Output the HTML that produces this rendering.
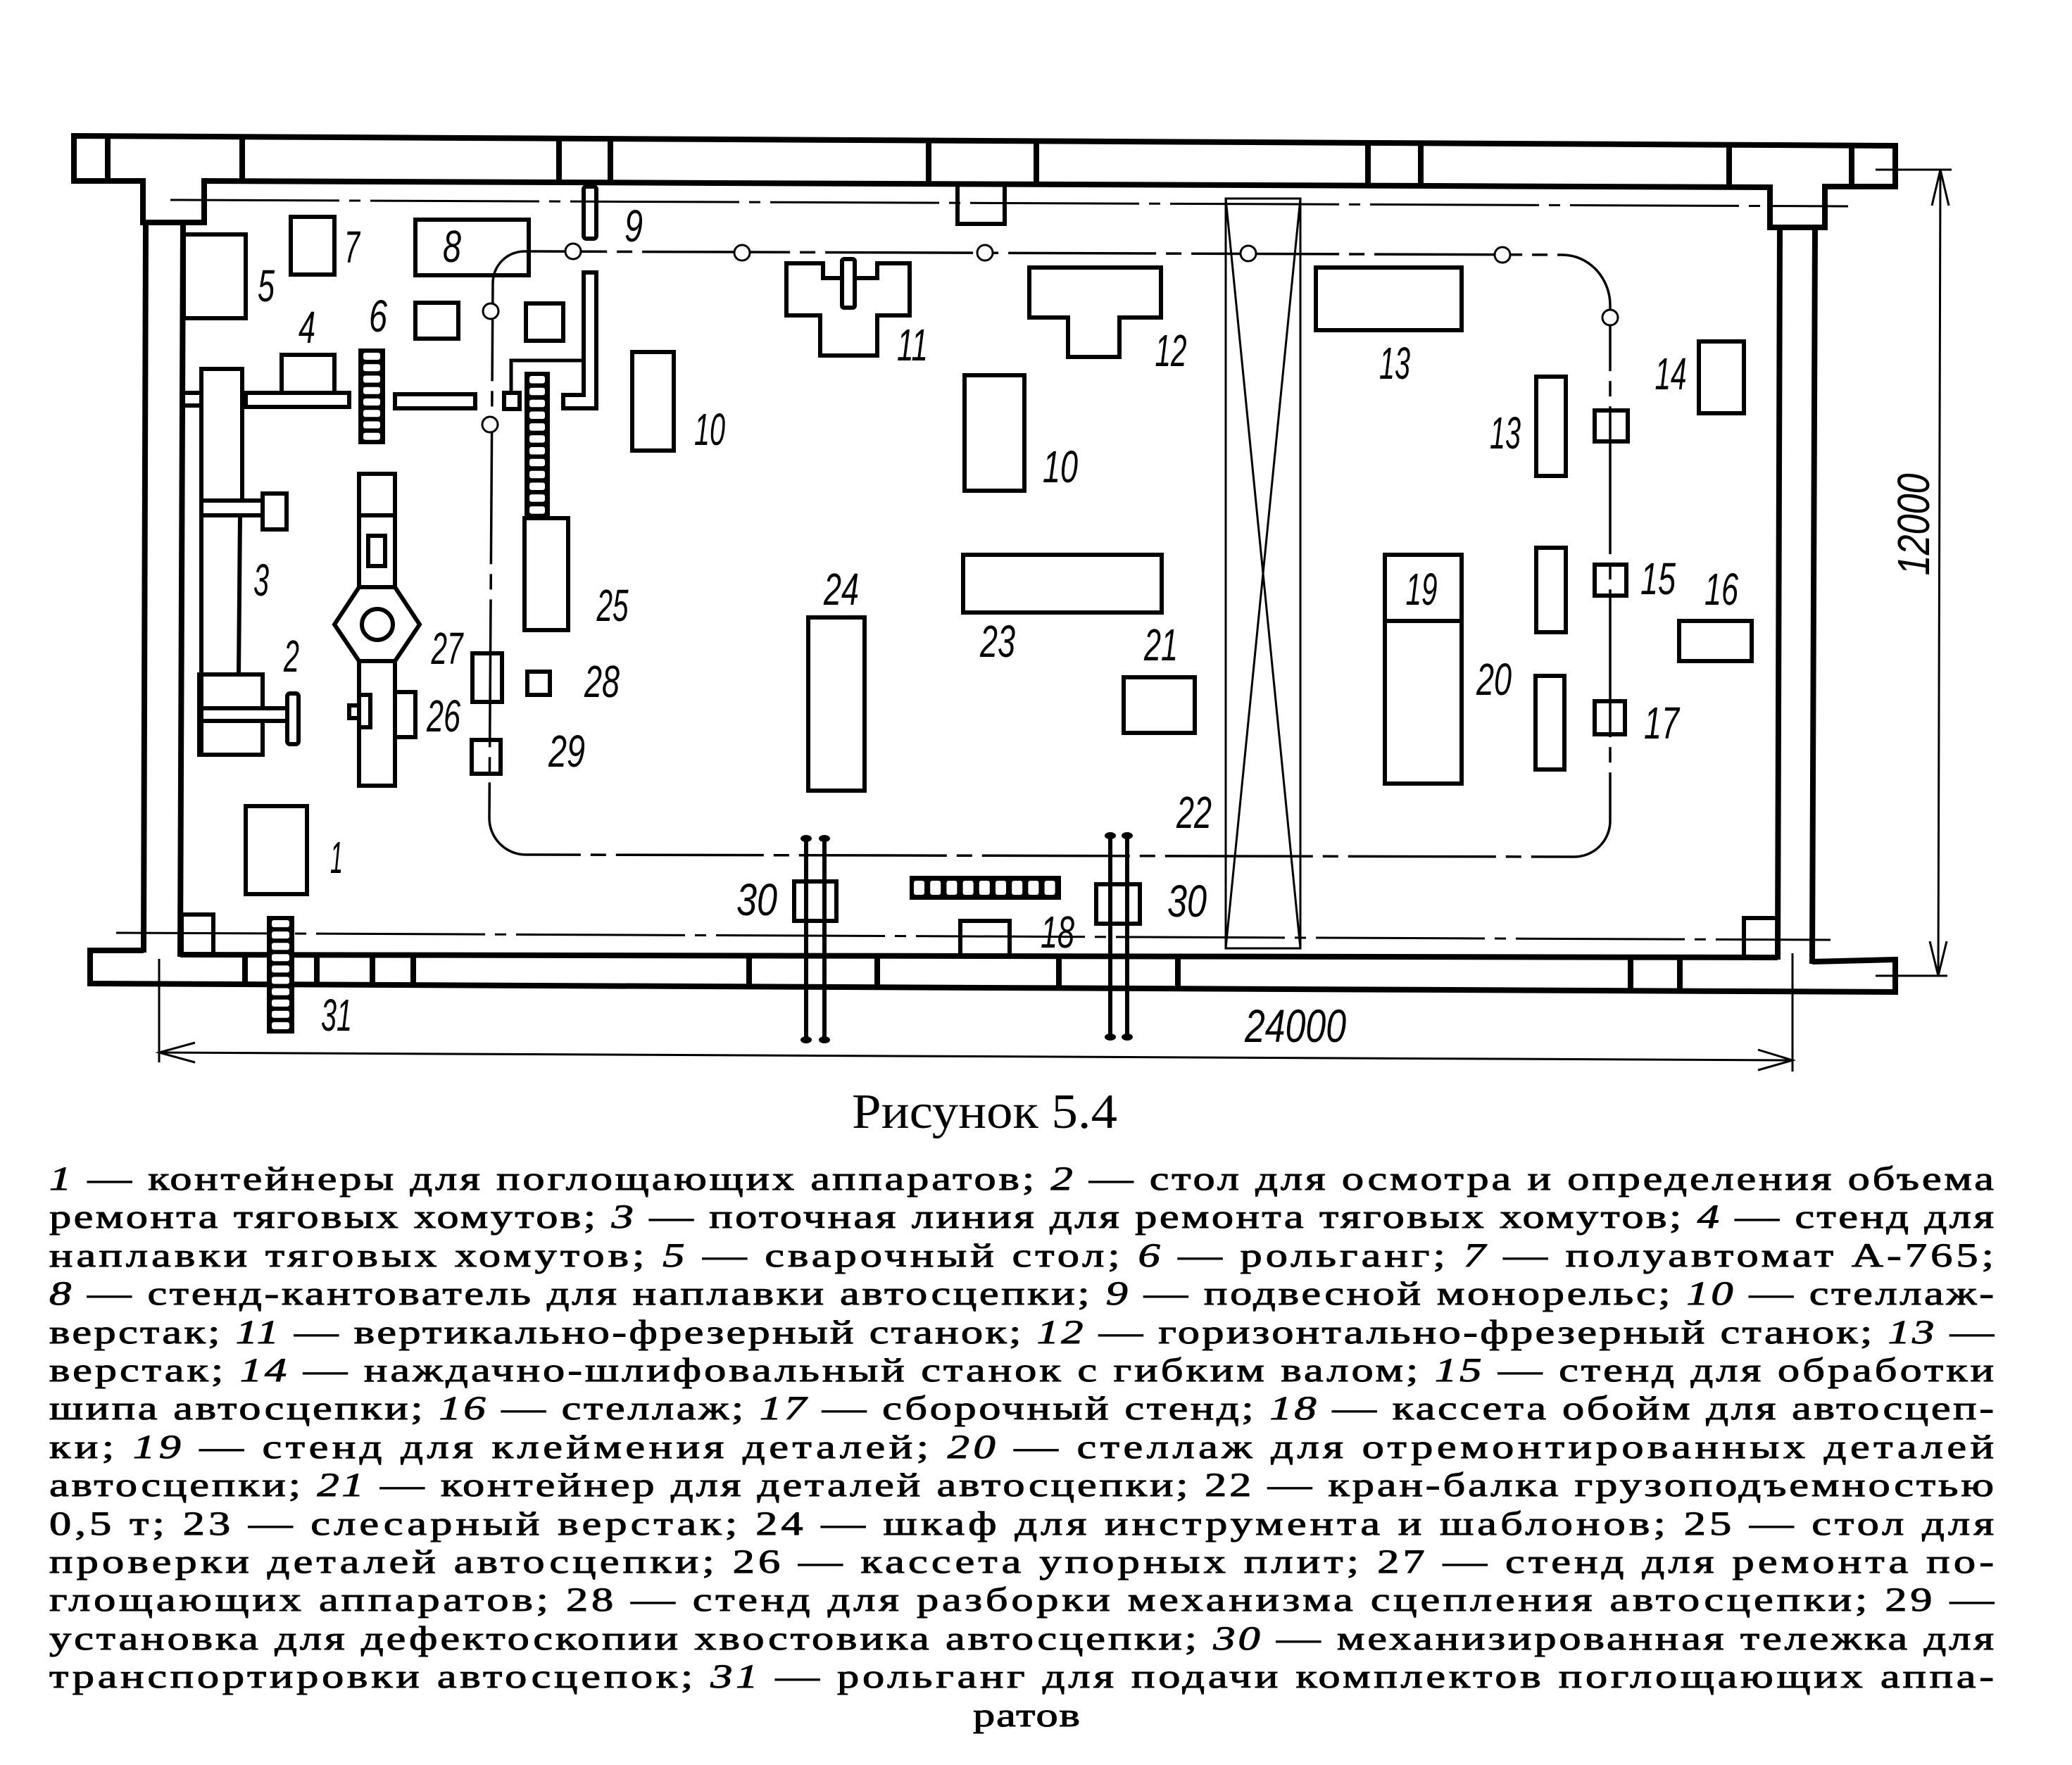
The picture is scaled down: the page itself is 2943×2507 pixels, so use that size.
<!DOCTYPE html>
<html><head><meta charset="utf-8"><style>
html,body{margin:0;padding:0;background:#fff;}
svg{display:block;}
.w{stroke:#000;stroke-width:8;fill:none;stroke-linejoin:miter}
.e{stroke:#000;stroke-width:6;fill:none}
.t{stroke:#000;stroke-width:3;fill:none}
.dd{stroke:#000;stroke-width:3.5;fill:none;stroke-dasharray:210 14 22 14}
.lb{font-family:"Liberation Sans",sans-serif;font-style:italic;font-size:64px;fill:#000;text-anchor:middle}
.cap{font-family:"Liberation Serif",serif;font-size:48px;fill:#000;stroke:#000;stroke-width:1}
.it{font-style:italic}
</style></head><body>
<svg width="2943" height="2507" viewBox="0 0 2943 2507" xmlns="http://www.w3.org/2000/svg">
<rect x="0" y="0" width="2943" height="2507" fill="#fff"/>

<!-- TOP WALL -->
<path class="w" d="M105,193 L2692,207 L2692,265 L2592,265 L2592,323 L2514,323 L2514,266 L290,257 L290,316 L203,316 L203,257 L105,257 Z"/>
<g class="w">
<line x1="153" y1="193" x2="153" y2="257"/>
<line x1="344" y1="194" x2="344" y2="257"/>
<line x1="794" y1="197" x2="794" y2="259"/>
<line x1="867" y1="197" x2="867" y2="259"/>
<line x1="1319" y1="200" x2="1319" y2="261"/>
<line x1="1472" y1="200" x2="1472" y2="262"/>
<line x1="1943" y1="203" x2="1943" y2="264"/>
<line x1="2018" y1="203" x2="2018" y2="264"/>
<line x1="2456" y1="206" x2="2456" y2="266"/>
<line x1="2630" y1="207" x2="2630" y2="265"/>
</g>
<path class="e" d="M1360,261 L1360,318 L1427,318 L1427,262"/>

<!-- SIDE WALLS -->
<g class="w">
<line x1="207" y1="316" x2="204" y2="1353"/>
<line x1="260" y1="316" x2="256" y2="1359"/>
<line x1="2528" y1="323" x2="2525" y2="1363"/>
<line x1="2578" y1="323" x2="2574" y2="1369"/>
</g>

<!-- BOTTOM WALL -->
<path class="w" d="M204,1350 L128,1350 L128,1397 L2692,1409 L2692,1363 L2574,1366"/>
<line class="w" x1="256" y1="1356" x2="2525" y2="1360"/>
<g class="w">
<line x1="348" y1="1356" x2="348" y2="1398"/>
<line x1="450" y1="1356" x2="450" y2="1399"/>
<line x1="529" y1="1357" x2="529" y2="1399"/>
<line x1="587" y1="1357" x2="587" y2="1399"/>
<line x1="1064" y1="1357" x2="1064" y2="1401"/>
<line x1="1246" y1="1358" x2="1246" y2="1402"/>
<line x1="1504" y1="1358" x2="1504" y2="1403"/>
<line x1="1673" y1="1359" x2="1673" y2="1404"/>
<line x1="2316" y1="1360" x2="2316" y2="1407"/>
<line x1="2386" y1="1360" x2="2386" y2="1408"/>
</g>
<rect class="e" x="258" y="1299" width="45" height="57"/>
<rect class="e" x="2477" y="1304" width="48" height="56"/>

<!-- AXES dash-dot -->
<path class="t" style="stroke-dasharray:240 14 16 14" d="M242,284 L2625,293"/>
<path class="t" style="stroke-dasharray:240 14 16 14" d="M165,1325 L2600,1335"/>

<!-- MONORAIL loop -->
<path class="dd" d="M745,357 A45 45 0 0 0 700,402 L695,1162 A52 52 0 0 0 747,1214 L2236,1217 A51 51 0 0 0 2287,1166 L2287,436 A68 72 0 0 0 2219,362 Z"/>
<g class="t" style="fill:#fff">
<circle cx="814" cy="357" r="11"/>
<circle cx="1054" cy="359" r="11"/>
<circle cx="1399" cy="359" r="11"/>
<circle cx="1773" cy="360" r="11"/>
<circle cx="2134" cy="362" r="11"/>
<circle cx="697" cy="442" r="11"/>
<circle cx="696" cy="603" r="11"/>
<circle cx="2287" cy="451" r="11"/>
</g>
<g class="e">
<rect x="671" y="928" width="42" height="69"/>
<rect x="670" y="1051" width="41" height="48"/>
<rect x="2265" y="583" width="47" height="44"/>
<rect x="2265" y="802" width="45" height="44"/>
<rect x="2265" y="996" width="43" height="47"/>
</g>
<!-- 9 slot -->
<rect class="e" x="829" y="265" width="18" height="74" rx="4"/>

<!-- EQUIPMENT -->
<g class="e">
<rect x="349" y="1145" width="87" height="125"/>
<rect x="261" y="333" width="88" height="119"/>
<rect x="413" y="308" width="62" height="82"/>
<rect x="590" y="312" width="161" height="79"/>
<rect x="590" y="430" width="61" height="51"/>
<rect x="747" y="431" width="53" height="53"/>
<rect x="400" y="504" width="75" height="54"/>
<rect x="349" y="558" width="147" height="20"/>
<rect x="561" y="560" width="114" height="20"/>
<path d="M286,1072 L286,524 L344,524 L344,711"/>
<line x1="341" y1="732" x2="339" y2="958"/>
<rect x="286" y="711" width="87" height="21"/>
<rect x="373" y="701" width="34" height="51"/>
<rect x="260" y="558" width="26" height="18"/>
<rect x="283" y="958" width="90" height="48"/>
<rect x="283" y="1006" width="125" height="18"/>
<rect x="408" y="985" width="16" height="72" rx="4"/>
<rect x="283" y="1024" width="90" height="48"/>
<path d="M829,387 L847,387 L847,580 L800,580 L800,561 L829,561 Z"/>
<path class="t" style="stroke-width:5" d="M829,512 L726,512 L726,558"/>
<rect x="716" y="558" width="22" height="23"/>
<rect x="898" y="500" width="59" height="140"/>
<rect x="745" y="736" width="62" height="159"/>
<rect x="510" y="673" width="51" height="161"/>
<line x1="510" y1="732" x2="561" y2="732"/>
<rect x="523" y="761" width="24" height="43"/>
<polygon points="475,887 510,834 561,834 596,887 561,939 510,939"/>
<circle cx="536" cy="887" r="22"/>
<rect x="510" y="939" width="51" height="177"/>
<rect x="510" y="987" width="16" height="46"/>
<rect x="496" y="1002" width="14" height="18"/>
<rect x="561" y="983" width="29" height="64"/>
<rect x="749" y="954" width="32" height="33"/>
<polygon points="1117,374 1169,374 1169,395 1246,395 1246,374 1292,374 1292,448 1246,448 1246,505 1165,505 1165,448 1117,448"/>
<rect x="1196" y="368" width="18" height="69" rx="3" style="fill:#fff"/>
<polygon points="1462,380 1649,380 1649,451 1590,451 1590,507 1517,507 1517,451 1462,451"/>
<rect x="1370" y="533" width="85" height="164"/>
<rect x="1368" y="788" width="282" height="82"/>
<rect x="1596" y="962" width="101" height="79"/>
<rect x="1148" y="877" width="80" height="246"/>
<rect x="1869" y="380" width="207" height="89"/>
<rect x="2182" y="535" width="42" height="141"/>
<rect x="2182" y="778" width="42" height="120"/>
<rect x="2181" y="960" width="41" height="133"/>
<rect x="2413" y="485" width="64" height="102"/>
<rect x="2385" y="882" width="103" height="57"/>
<rect x="1967" y="788" width="109" height="325"/>
<line x1="1967" y1="882" x2="2076" y2="882"/>
<rect x="1364" y="1308" width="70" height="50"/>
</g>

<!-- CRANE 22 -->
<g class="t">
<rect x="1741" y="282" width="106" height="1065"/>
<line x1="1741" y1="282" x2="1847" y2="1347"/>
<line x1="1847" y1="282" x2="1741" y2="1347"/>
</g>

<!-- LADDERS -->
<rect x="509" y="495" width="38" height="136" fill="#000"/>
<g fill="#fff">
<rect x="516" y="501" width="24" height="10" rx="3"/><rect x="516" y="517.25" width="24" height="10" rx="3"/>
<rect x="516" y="533.5" width="24" height="10" rx="3"/><rect x="516" y="549.75" width="24" height="10" rx="3"/>
<rect x="516" y="566" width="24" height="10" rx="3"/><rect x="516" y="582.25" width="24" height="10" rx="3"/>
<rect x="516" y="598.5" width="24" height="10" rx="3"/><rect x="516" y="614.75" width="24" height="10" rx="3"/>
</g>
<rect x="745" y="528" width="36" height="208" fill="#000"/>
<g fill="#fff">
<rect x="752" y="534" width="22" height="10.5" rx="3"/><rect x="752" y="550.8" width="22" height="10.5" rx="3"/>
<rect x="752" y="567.7" width="22" height="10.5" rx="3"/><rect x="752" y="584.5" width="22" height="10.5" rx="3"/>
<rect x="752" y="601.3" width="22" height="10.5" rx="3"/><rect x="752" y="618.2" width="22" height="10.5" rx="3"/>
<rect x="752" y="635" width="22" height="10.5" rx="3"/><rect x="752" y="651.8" width="22" height="10.5" rx="3"/>
<rect x="752" y="668.7" width="22" height="10.5" rx="3"/><rect x="752" y="685.5" width="22" height="10.5" rx="3"/>
<rect x="752" y="702.3" width="22" height="10.5" rx="3"/><rect x="752" y="719.2" width="22" height="10.5" rx="3"/>
</g>
<rect x="379" y="1301" width="39" height="167" fill="#000"/>
<g fill="#fff">
<rect x="386" y="1307" width="25" height="10" rx="3"/><rect x="386" y="1323.1" width="25" height="10" rx="3"/>
<rect x="386" y="1339.2" width="25" height="10" rx="3"/><rect x="386" y="1355.3" width="25" height="10" rx="3"/>
<rect x="386" y="1371.4" width="25" height="10" rx="3"/><rect x="386" y="1387.5" width="25" height="10" rx="3"/>
<rect x="386" y="1403.6" width="25" height="10" rx="3"/><rect x="386" y="1419.7" width="25" height="10" rx="3"/>
<rect x="386" y="1435.8" width="25" height="10" rx="3"/><rect x="386" y="1451.9" width="25" height="10" rx="3"/>
</g>
<rect x="1292" y="1244" width="215" height="34" fill="#000"/>
<g fill="#fff">
<rect x="1298" y="1251" width="15" height="20" rx="3"/><rect x="1321.2" y="1251" width="15" height="20" rx="3"/>
<rect x="1344.4" y="1251" width="15" height="20" rx="3"/><rect x="1367.6" y="1251" width="15" height="20" rx="3"/>
<rect x="1390.8" y="1251" width="15" height="20" rx="3"/><rect x="1414" y="1251" width="15" height="20" rx="3"/>
<rect x="1437.2" y="1251" width="15" height="20" rx="3"/><rect x="1460.4" y="1251" width="15" height="20" rx="3"/>
<rect x="1483.6" y="1251" width="15" height="20" rx="3"/>
</g>

<!-- 30 trolleys -->
<g class="e">
<line x1="1145" y1="1190" x2="1145" y2="1478"/>
<line x1="1171" y1="1190" x2="1171" y2="1478"/>
<rect x="1128" y="1252" width="60" height="56"/>
<line x1="1577" y1="1186" x2="1577" y2="1474"/>
<line x1="1601" y1="1186" x2="1601" y2="1474"/>
<rect x="1557" y="1256" width="62" height="56"/>
</g>
<g fill="#000">
<ellipse cx="1145" cy="1191" rx="8" ry="5"/><ellipse cx="1171" cy="1191" rx="8" ry="5"/>
<ellipse cx="1145" cy="1477" rx="8" ry="5"/><ellipse cx="1171" cy="1477" rx="8" ry="5"/>
<ellipse cx="1577" cy="1187" rx="8" ry="5"/><ellipse cx="1601" cy="1187" rx="8" ry="5"/>
<ellipse cx="1577" cy="1473" rx="8" ry="5"/><ellipse cx="1601" cy="1473" rx="8" ry="5"/>
</g>

<!-- DIMENSIONS -->
<g class="t">
<line x1="226" y1="1362" x2="226" y2="1509"/>
<line x1="2546" y1="1354" x2="2546" y2="1522"/>
<line x1="226" y1="1495" x2="2546" y2="1506"/>
<polyline points="277,1481 226,1495 277,1509"/>
<polyline points="2497,1491 2546,1506 2497,1520"/>
<line x1="2664" y1="241" x2="2772" y2="241"/>
<line x1="2664" y1="1386" x2="2766" y2="1386"/>
<line x1="2756" y1="241" x2="2753" y2="1386"/>
<polyline points="2744,292 2756,241 2768,292"/>
<polyline points="2741,1337 2753,1386 2765,1337"/>
</g>

<!-- LABELS -->
<g class="lb">
<text x="378" y="428" textLength="24" lengthAdjust="spacingAndGlyphs">5</text>
<text x="500" y="373" textLength="22" lengthAdjust="spacingAndGlyphs">7</text>
<text x="642" y="372" textLength="26" lengthAdjust="spacingAndGlyphs">8</text>
<text x="900" y="343" textLength="26" lengthAdjust="spacingAndGlyphs">9</text>
<text x="436" y="487" textLength="24" lengthAdjust="spacingAndGlyphs">4</text>
<text x="537" y="471" textLength="26" lengthAdjust="spacingAndGlyphs">6</text>
<text x="371" y="846" textLength="22" lengthAdjust="spacingAndGlyphs">3</text>
<text x="414" y="954" textLength="22" lengthAdjust="spacingAndGlyphs">2</text>
<text x="478" y="1240" textLength="18" lengthAdjust="spacingAndGlyphs">1</text>
<text x="870" y="882" textLength="45" lengthAdjust="spacingAndGlyphs">25</text>
<text x="635" y="943" textLength="45" lengthAdjust="spacingAndGlyphs">27</text>
<text x="1008" y="632" textLength="44" lengthAdjust="spacingAndGlyphs">10</text>
<text x="630" y="1039" textLength="48" lengthAdjust="spacingAndGlyphs">26</text>
<text x="855" y="990" textLength="50" lengthAdjust="spacingAndGlyphs">28</text>
<text x="805" y="1089" textLength="52" lengthAdjust="spacingAndGlyphs">29</text>
<text x="478" y="1464" textLength="44" lengthAdjust="spacingAndGlyphs">31</text>
<text x="1296" y="512" textLength="44" lengthAdjust="spacingAndGlyphs">11</text>
<text x="1663" y="520" textLength="45" lengthAdjust="spacingAndGlyphs">12</text>
<text x="1506" y="685" textLength="50" lengthAdjust="spacingAndGlyphs">10</text>
<text x="1195" y="859" textLength="50" lengthAdjust="spacingAndGlyphs">24</text>
<text x="1417" y="933" textLength="50" lengthAdjust="spacingAndGlyphs">23</text>
<text x="1649" y="938" textLength="48" lengthAdjust="spacingAndGlyphs">21</text>
<text x="1981" y="538" textLength="44" lengthAdjust="spacingAndGlyphs">13</text>
<text x="2138" y="637" textLength="44" lengthAdjust="spacingAndGlyphs">13</text>
<text x="2373" y="553" textLength="45" lengthAdjust="spacingAndGlyphs">14</text>
<text x="2355" y="844" textLength="50" lengthAdjust="spacingAndGlyphs">15</text>
<text x="2445" y="859" textLength="48" lengthAdjust="spacingAndGlyphs">16</text>
<text x="2019" y="859" textLength="45" lengthAdjust="spacingAndGlyphs">19</text>
<text x="2122" y="987" textLength="50" lengthAdjust="spacingAndGlyphs">20</text>
<text x="2360" y="1049" textLength="50" lengthAdjust="spacingAndGlyphs">17</text>
<text x="1696" y="1176" textLength="50" lengthAdjust="spacingAndGlyphs">22</text>
<text x="1075" y="1300" textLength="58" lengthAdjust="spacingAndGlyphs">30</text>
<text x="1686" y="1302" textLength="56" lengthAdjust="spacingAndGlyphs">30</text>
<text x="1502" y="1346" textLength="48" lengthAdjust="spacingAndGlyphs">18</text>
<text x="1840" y="1480" style="font-size:66px" textLength="144" lengthAdjust="spacingAndGlyphs">24000</text>
<text transform="translate(2740,745) rotate(-90)" x="0" y="0" textLength="145" lengthAdjust="spacingAndGlyphs">12000</text>
</g>

<!-- CAPTION -->
<text x="1210" y="1602" style="font-family:'Liberation Serif',serif;font-size:70px" textLength="377" lengthAdjust="spacingAndGlyphs">Рисунок 5.4</text>

<g class="cap" transform="scale(1.3,1)">
<text x="53.85" y="1690" textLength="2124.6" lengthAdjust="spacing"><tspan class="it">1</tspan> — контейнеры для поглощающих аппаратов; <tspan class="it">2</tspan> — стол для осмотра и определения объема</text>
<text x="53.85" y="1744" textLength="2124.6" lengthAdjust="spacing">ремонта тяговых хомутов; <tspan class="it">3</tspan> — поточная линия для ремонта тяговых хомутов; <tspan class="it">4</tspan> — стенд для</text>
<text x="53.85" y="1799" textLength="2124.6" lengthAdjust="spacing">наплавки тяговых хомутов; <tspan class="it">5</tspan> — сварочный стол; <tspan class="it">6</tspan> — рольганг; <tspan class="it">7</tspan> — полуавтомат А-765;</text>
<text x="53.85" y="1853" textLength="2124.6" lengthAdjust="spacing"><tspan class="it">8</tspan> — стенд-кантователь для наплавки автосцепки; <tspan class="it">9</tspan> — подвесной монорельс; <tspan class="it">10</tspan> — стеллаж-</text>
<text x="53.85" y="1908" textLength="2124.6" lengthAdjust="spacing">верстак; <tspan class="it">11</tspan> — вертикально-фрезерный станок; <tspan class="it">12</tspan> — горизонтально-фрезерный станок; <tspan class="it">13</tspan> —</text>
<text x="53.85" y="1962" textLength="2124.6" lengthAdjust="spacing">верстак; <tspan class="it">14</tspan> — наждачно-шлифовальный станок с гибким валом; <tspan class="it">15</tspan> — стенд для обработки</text>
<text x="53.85" y="2016" textLength="2124.6" lengthAdjust="spacing">шипа автосцепки; <tspan class="it">16</tspan> — стеллаж; <tspan class="it">17</tspan> — сборочный стенд; <tspan class="it">18</tspan> — кассета обойм для автосцеп-</text>
<text x="53.85" y="2071" textLength="2124.6" lengthAdjust="spacing">ки; <tspan class="it">19</tspan> — стенд для клеймения деталей; <tspan class="it">20</tspan> — стеллаж для отремонтированных деталей</text>
<text x="53.85" y="2125" textLength="2124.6" lengthAdjust="spacing">автосцепки; <tspan class="it">21</tspan> — контейнер для деталей автосцепки; 22 — кран-балка грузоподъемностью</text>
<text x="53.85" y="2180" textLength="2124.6" lengthAdjust="spacing">0,5 т; 23 — слесарный верстак; 24 — шкаф для инструмента и шаблонов; 25 — стол для</text>
<text x="53.85" y="2234" textLength="2124.6" lengthAdjust="spacing">проверки деталей автосцепки; 26 — кассета упорных плит; 27 — стенд для ремонта по-</text>
<text x="53.85" y="2288" textLength="2124.6" lengthAdjust="spacing">глощающих аппаратов; 28 — стенд для разборки механизма сцепления автосцепки; 29 —</text>
<text x="53.85" y="2343" textLength="2124.6" lengthAdjust="spacing">установка для дефектоскопии хвостовика автосцепки; <tspan class="it">30</tspan> — механизированная тележка для</text>
<text x="53.85" y="2397" textLength="2124.6" lengthAdjust="spacing">транспортировки автосцепок; <tspan class="it">31</tspan> — рольганг для подачи комплектов поглощающих аппа-</text>
<text x="1063.1" y="2452" textLength="116.9" lengthAdjust="spacing">ратов</text>
</g>
</svg>
</body></html>
